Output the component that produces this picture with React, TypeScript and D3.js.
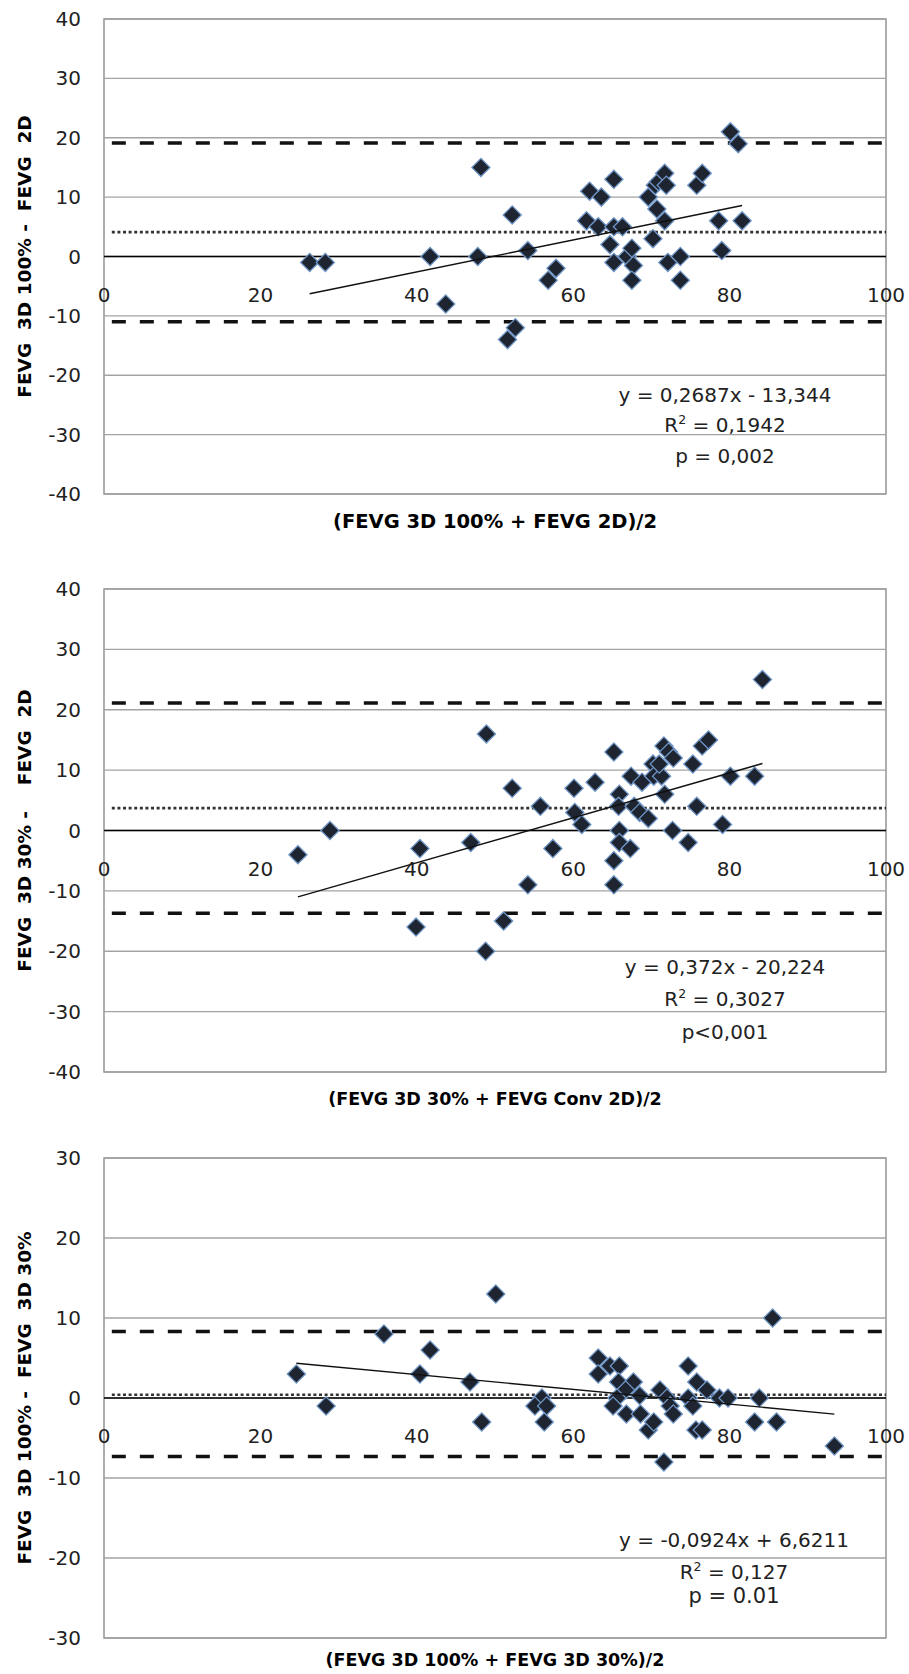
import * as d3 from "d3";

type Pt = [number, number];

// mean of the two methods (x) vs difference (y)
const points3D100vs2D: Pt[] = [
  [26.3, -1], [28.3, -1], [41.7, 0], [43.7, -8], [47.8, 0], [48.2, 15], [52.2, 7],
  [54.2, 1], [52.6, -12], [51.6, -14], [56.8, -4], [57.8, -2], [62.1, 11], [63.6, 10],
  [65.2, 13], [61.7, 6], [63.2, 5], [65.2, 5], [66.3, 5], [64.7, 2], [65.2, -1],
  [66.9, 0], [67.5, 1.4], [67.7, -1.5], [67.5, -4], [69.6, 10], [70.5, 12], [70.9, 12.6],
  [71.7, 14], [71.9, 12], [70.7, 8], [71.7, 6], [70.2, 3], [72.1, -1], [73.7, 0],
  [73.7, -4], [75.8, 12], [76.5, 14], [78.6, 6], [79.0, 1], [81.6, 6], [80.1, 21], [81.1, 19],
];

const points3D30vs2D: Pt[] = [
  [24.8, -4], [28.9, 0], [40.4, -3], [39.9, -16], [46.9, -2], [48.9, 16], [48.8, -20],
  [51.1, -15], [52.2, 7], [54.2, -9], [55.8, 4], [57.4, -3], [60.1, 7], [60.2, 3],
  [61.1, 1], [62.8, 8], [65.2, 13], [65.9, 6], [65.8, 4], [65.9, 0], [65.9, -2],
  [65.2, -5], [65.2, -9], [67.4, 9], [67.3, -3], [67.8, 4], [68.5, 3], [68.8, 8],
  [69.6, 2], [70.2, 11], [70.3, 9], [71.3, 9], [71.0, 11], [71.6, 14], [72.2, 13],
  [72.8, 12], [71.7, 6], [72.7, 0], [74.7, -2], [75.3, 11], [75.8, 4], [76.5, 14],
  [77.3, 15], [79.1, 1], [80.1, 9], [83.2, 9], [84.2, 25],
];

const points3D100vs3D30: Pt[] = [
  [24.6, 3], [28.4, -1], [35.8, 8], [40.4, 3], [41.7, 6], [46.8, 2], [48.3, -3],
  [50.1, 13], [56.0, 0], [55.1, -1], [56.6, -1], [56.3, -3], [63.2, 5], [63.2, 3],
  [64.7, 4], [65.9, 4], [65.8, 2], [67.7, 2], [66.7, 1], [65.6, 0], [65.1, -1],
  [66.8, -2], [68.5, 0.3], [68.6, -2], [69.6, -4], [70.3, -3], [71.1, 1], [72.0, 0],
  [72.4, -1], [72.8, -2], [71.6, -8], [74.7, 4], [74.7, 0], [75.3, -1], [75.8, 2],
  [75.7, -4], [76.5, -4], [77.1, 1], [78.7, 0], [79.8, 0], [83.2, -3], [83.8, 0],
  [86.0, -3], [85.5, 10], [93.4, -6],
];

// mean difference and limits of agreement, per chart
const meanDiffs = [4.1, 3.7, 0.4];
const upperLimits = [19.1, 21.1, 8.3];
const lowerLimits = [-11.0, -13.7, -7.3];

// trend lines: slope, intercept
const slopes = [0.2687, 0.372, -0.0924];
const intercepts = [-13.344, -20.224, 6.6211];

const xTicks = [0, 20, 40, 60, 80, 100];
const yMaxes = [40, 40, 30];

const yTitles = [
  "FEVG  3D 100% -  FEVG  2D",
  "FEVG  3D 30% -    FEVG  2D",
  "FEVG  3D 100% -  FEVG  3D 30%",
];
const xTitles = [
  "(FEVG 3D 100% + FEVG 2D)/2",
  "(FEVG 3D 30% + FEVG Conv 2D)/2",
  "(FEVG 3D 100% + FEVG 3D 30%)/2",
];
const eqLabels = ["y = 0,2687x - 13,344", "y = 0,372x - 20,224", "y = -0,0924x + 6,6211"];
const r2Labels = ["0,1942", "0,3027", "0,127"];
const pLabels = ["p = 0,002", "p<0,001", "p = 0.01"];

const FONT = "'DejaVu Sans', 'Liberation Sans', sans-serif";
const LEFT = 104;
const RIGHT = 886;

const layouts = [
  { top: 19, bottom: 494, annX: 725, annDy: [-92, -62, -31], xTitleY: 528, xTitleSize: 19.5 },
  { top: 589, bottom: 1072, annX: 725, annDy: [-98, -66, -33], xTitleY: 1105, xTitleSize: 17.5 },
  { top: 1158, bottom: 1638, annX: 734, annDy: [-91, -59, -35], xTitleY: 1666, xTitleSize: 17.5 },
];

const x = d3.scaleLinear().domain([0, 100]).range([LEFT, RIGHT]);
const diamond = d3.symbol(d3.symbolSquare, 165)() ?? "";

function Panel({ i }: { i: number }) {
  const lay = layouts[i];
  const yMax = yMaxes[i];
  const pts =
    i === 0 ? points3D100vs2D : i === 1 ? points3D30vs2D : points3D100vs3D30;
  const y = d3.scaleLinear().domain([-yMax, yMax]).range([lay.bottom, lay.top]);
  const yTicks = d3.range(-yMax, yMax + 1, 10);
  const [xmin, xmax] = d3.extent(pts, (d) => d[0]) as [number, number];
  const fit = d3
    .line<number>()
    .x((v) => x(v))
    .y((v) => y(slopes[i] * v + intercepts[i]));
  const hLines = [
    { v: upperLimits[i], dash: "14,14", w: 3.5, c: "#111" },
    { v: lowerLimits[i], dash: "14,14", w: 3.5, c: "#111" },
    { v: meanDiffs[i], dash: "3,2.6", w: 2.6, c: "#333" },
  ];
  const midY = (lay.top + lay.bottom) / 2;

  return (
    <g>
      <rect
        x={LEFT}
        y={lay.top}
        width={RIGHT - LEFT}
        height={lay.bottom - lay.top}
        fill="#fff"
        stroke="#8c8c8c"
        strokeWidth={1.4}
      />
      {yTicks.map((t) => (
        <line
          key={t}
          x1={LEFT}
          x2={RIGHT}
          y1={y(t)}
          y2={y(t)}
          stroke="#a3a3a3"
          strokeWidth={1.4}
        />
      ))}
      <line x1={LEFT} x2={RIGHT} y1={y(0)} y2={y(0)} stroke="#000" strokeWidth={1.6} />
      {hLines.map((h, k) => (
        <line
          key={k}
          x1={x(1)}
          x2={x(100)}
          y1={y(h.v)}
          y2={y(h.v)}
          stroke={h.c}
          strokeWidth={h.w}
          strokeDasharray={h.dash}
        />
      ))}
      {pts.map((d, k) => (
        <path
          key={k}
          d={diamond}
          transform={`translate(${x(d[0])},${y(d[1])}) rotate(45)`}
          fill="#1e2530"
          stroke="#6f95c6"
          strokeWidth={1.3}
        />
      ))}
      <path d={fit([xmin, xmax]) ?? ""} fill="none" stroke="#111" strokeWidth={1.4} />

      {yTicks.map((t) => (
        <text
          key={t}
          x={81}
          y={y(t)}
          textAnchor="end"
          dominantBaseline="central"
          fontFamily={FONT}
          fontSize={20}
          fill="#222"
        >
          {t}
        </text>
      ))}
      {xTicks.map((t) => (
        <text
          key={t}
          x={x(t)}
          y={y(0) + 45}
          textAnchor="middle"
          fontFamily={FONT}
          fontSize={20}
          fill="#222"
        >
          {t}
        </text>
      ))}
      <text
        transform={`translate(24,${midY}) rotate(-90)`}
        textAnchor="middle"
        dominantBaseline="central"
        fontFamily={FONT}
        fontWeight="bold"
        fontSize={18.5}
        fill="#000"
        style={{ whiteSpace: "pre" }}
      >
        {yTitles[i]}
      </text>
      <text
        x={(LEFT + RIGHT) / 2}
        y={lay.xTitleY}
        textAnchor="middle"
        fontFamily={FONT}
        fontWeight="bold"
        fontSize={lay.xTitleSize}
        fill="#000"
      >
        {xTitles[i]}
      </text>
      <g fontFamily={FONT} fontSize={20} fill="#222" textAnchor="middle">
        <text x={lay.annX} y={lay.bottom + lay.annDy[0]}>
          {eqLabels[i]}
        </text>
        <text x={lay.annX} y={lay.bottom + lay.annDy[1]}>
          R<tspan fontSize={12.5} dy={-8}>2</tspan>
          <tspan dy={8}>{" = " + r2Labels[i]}</tspan>
        </text>
        <text x={lay.annX} y={lay.bottom + lay.annDy[2]} fontSize={i === 2 ? 21 : 20}>
          {pLabels[i]}
        </text>
      </g>
    </g>
  );
}

export default function App() {
  return (
    <svg
      width={909}
      height={1674}
      style={{ position: "absolute", left: 0, top: 0, background: "#fff" }}
    >
      {[0, 1, 2].map((i) => (
        <Panel key={i} i={i} />
      ))}
    </svg>
  );
}
